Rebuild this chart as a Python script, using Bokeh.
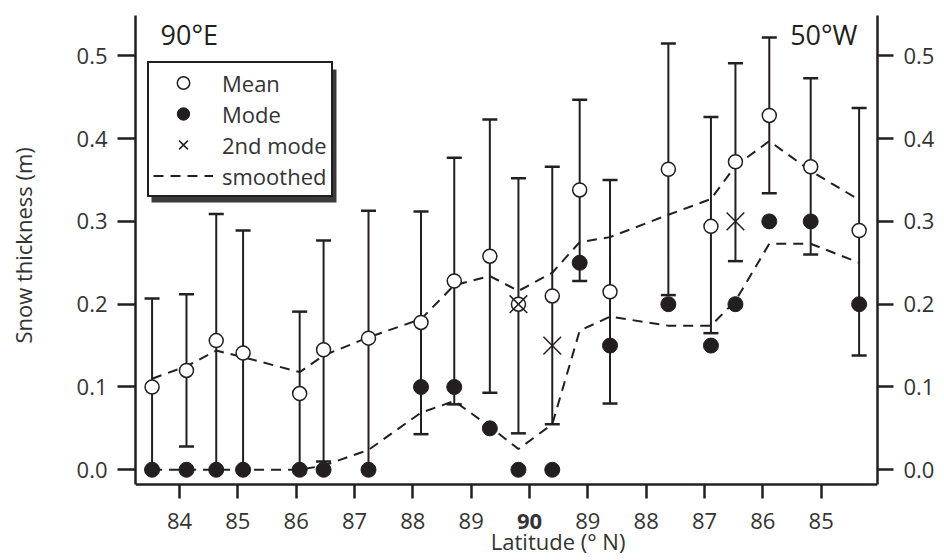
import math
from bokeh.plotting import figure
from bokeh.models import (Range1d, LinearAxis, FixedTicker, ColumnDataSource, Whisker,
                          TeeHead, Legend, LegendItem, Label, NumeralTickFormatter, BoxAnnotation)
from bokeh.embed import file_html
from bokeh.resources import INLINE

# ---- data ----
# sample latitudes along the transect: 90E side going north, then 50W side going south
lat_90E = [83.53, 84.12, 84.63, 85.09, 86.06, 86.47, 87.24, 88.14, 88.71, 89.32, 89.81]
lat_50W = [89.61, 89.14, 88.62, 87.62, 86.89, 86.47, 85.89, 85.18, 84.35]

mean_thk = [0.100, 0.120, 0.156, 0.141, 0.092, 0.145, 0.159, 0.178, 0.228, 0.258, 0.200,
            0.210, 0.338, 0.215, 0.363, 0.294, 0.372, 0.428, 0.366, 0.289]
mode_thk = [0.0, 0.0, 0.0, 0.0, 0.0, 0.0, 0.0, 0.10, 0.10, 0.05, 0.0,
            0.0, 0.25, 0.15, 0.20, 0.15, 0.20, 0.30, 0.30, 0.20]
nan = float("nan")
mode2_thk = [nan, nan, nan, nan, nan, nan, nan, nan, nan, nan, 0.20,
             0.15, nan, nan, nan, nan, 0.30, nan, nan, nan]
err_upper = [0.207, 0.212, 0.309, 0.289, 0.191, 0.277, 0.313, 0.312, 0.377, 0.423, 0.352,
             0.366, 0.447, 0.350, 0.515, 0.426, 0.491, 0.522, 0.473, 0.437]
err_lower = [0.0, 0.028, 0.0, 0.0, 0.0, 0.010, 0.0, 0.043, 0.079, 0.093, 0.044,
             0.055, 0.228, 0.080, 0.211, 0.165, 0.252, 0.334, 0.260, 0.138]
smooth_mean = [0.110, 0.125, 0.144, 0.136, 0.118, 0.138, 0.160, 0.182, 0.223, 0.234, 0.216,
               0.238, 0.275, 0.281, 0.308, 0.327, 0.367, 0.397, 0.361, 0.326]
smooth_mode = [0.0, 0.0, 0.0, 0.0, 0.0, 0.005, 0.024, 0.069, 0.083, 0.052, 0.025,
               0.055, 0.168, 0.185, 0.174, 0.174, 0.204, 0.273, 0.273, 0.250]

tick_positions = [84, 85, 86, 87, 88, 89, 90, 91, 92, 93, 94, 95]
tick_labels = ["84", "85", "86", "87", "88", "89", "90", "89", "88", "87", "86", "85"]
y_ticks = [0.0, 0.1, 0.2, 0.3, 0.4, 0.5]

# transect coordinate: latitude on the 90E side, 180 - latitude on the 50W side
xpos = lat_90E + [180 - v for v in lat_50W]

INK = "#231f20"
TXT = "#333333"
FONT = "Open Sans"

X_LO, X_HI = 83.246, 95.965
Y_AX_LO, Y_HI = -0.0178, 0.5487       # extent of the drawn axes
Y_VIEW_LO = -0.1096                   # view extends under the axis for the tick labels

src = ColumnDataSource(dict(x=xpos, mean=mean_thk, mode=mode_thk, mode2=mode2_thk,
                            up=err_upper, lo=err_lower, sm=smooth_mean, smo=smooth_mode))

W, H = 944, 560
p = figure(width=W, height=H, output_backend="svg", toolbar_location=None,
           x_range=Range1d(X_LO, X_HI), y_range=Range1d(Y_VIEW_LO, Y_HI),
           min_border_left=135, min_border_right=67, min_border_top=15, min_border_bottom=0,
           background_fill_color="white", border_fill_color="white")
p.xgrid.visible = False
p.ygrid.visible = False
p.outline_line_color = None


def style_axis(ax, tick_len):
    ax.axis_line_color = INK
    ax.axis_line_width = 2.5
    ax.major_tick_line_color = INK
    ax.major_tick_line_width = 2.5
    ax.major_tick_out = tick_len
    ax.major_tick_in = 0
    ax.minor_tick_line_color = None
    ax.major_label_text_font = FONT
    ax.major_label_text_font_size = "22px"
    ax.major_label_text_color = TXT


# left axis
yax = p.yaxis[0]
style_axis(yax, 18)
yax.ticker = FixedTicker(ticks=y_ticks)
yax.formatter = NumeralTickFormatter(format="0.0")
yax.major_label_standoff = 10
yax.bounds = (Y_AX_LO, Y_HI)

# y-axis title, in a panel left of the axis
p.add_layout(Label(x=81.31, y=0.271, x_units="data", y_units="data",
                   text="Snow thickness (m)", angle=math.pi / 2,
                   text_font=FONT, text_font_size="22px", text_color=TXT,
                   text_align="center", text_baseline="middle"), "left")

# right axis
rax = LinearAxis()
style_axis(rax, 16)
rax.ticker = FixedTicker(ticks=y_ticks)
rax.formatter = NumeralTickFormatter(format="0.0")
rax.major_label_standoff = 10
rax.bounds = (Y_AX_LO, Y_HI)
p.add_layout(rax, "right")

# bottom axis, pinned at the foot of the y axes
xax = p.xaxis[0]
style_axis(xax, 14)
xax.fixed_location = Y_AX_LO
xax.ticker = FixedTicker(ticks=tick_positions)
overrides = {pos: lab for pos, lab in zip(tick_positions, tick_labels)}
overrides[90] = " "
xax.major_label_overrides = overrides
xax.major_label_standoff = 7

# bold 90 at the pole
p.add_layout(Label(x=90, y=-0.0625, x_units="data", y_units="data", text=tick_labels[6],
                   text_font=FONT, text_font_size="22px", text_font_style="bold",
                   text_color=TXT, text_align="center", text_baseline="middle"))

# x-axis title
p.add_layout(Label(x=90.49, y=-0.0862, x_units="data", y_units="data",
                   text="Latitude (\u00b0 N)",
                   text_font=FONT, text_font_size="22px", text_color=TXT,
                   text_align="center", text_baseline="middle"))

# error bars
wk = Whisker(source=src, base="x", upper="up", lower="lo", dimension="height",
             line_color=INK, line_width=2,
             upper_head=TeeHead(size=15, line_color=INK, line_width=2.5),
             lower_head=TeeHead(size=15, line_color=INK, line_width=2.5))
p.add_layout(wk)

# smoothed lines
r_sm = p.line("x", "sm", source=src, line_color=INK, line_width=2, line_dash="10 7")
p.line("x", "smo", source=src, line_color=INK, line_width=2, line_dash="10 7")

# markers
r_mean = p.scatter("x", "mean", source=src, marker="circle", size=14,
                   fill_color="white", line_color=INK, line_width=1.5)
r_mode = p.scatter("x", "mode", source=src, marker="circle", size=15,
                   fill_color=INK, line_color=INK, line_width=1)
r_mode2 = p.scatter("x", "mode2", source=src, marker="x", size=25,
                    line_color=INK, line_width=1.5)

# legend drop shadow
p.add_layout(BoxAnnotation(left=16, right=201, top=491, bottom=358,
                           left_units="screen", right_units="screen",
                           top_units="screen", bottom_units="screen",
                           fill_color="#3a3a3a", fill_alpha=1.0, line_color=None))

legend = Legend(items=[LegendItem(label="Mean", renderers=[r_mean]),
                       LegendItem(label="Mode", renderers=[r_mode]),
                       LegendItem(label="2nd mode", renderers=[r_mode2]),
                       LegendItem(label="smoothed", renderers=[r_sm])],
                location=(12, 363), orientation="vertical",
                glyph_width=60, glyph_height=31, label_height=28, spacing=0,
                padding=4, margin=0, label_standoff=9,
                label_text_font=FONT, label_text_font_size="22px", label_text_color=TXT,
                border_line_color=INK, border_line_width=2.5, border_line_alpha=1.0,
                background_fill_color="white", background_fill_alpha=1.0)
p.add_layout(legend, "center")

# side annotations
p.add_layout(Label(x=25, y=526, x_units="screen", y_units="screen", text="90\u00b0E",
                   text_font=FONT, text_font_size="27px", text_color=INK,
                   text_align="left", text_baseline="middle"))
p.add_layout(Label(x=722, y=526, x_units="screen", y_units="screen", text="50\u00b0W",
                   text_font=FONT, text_font_size="27px", text_color=INK,
                   text_align="right", text_baseline="middle"))

open("out.html", "w").write(file_html(p, INLINE))
